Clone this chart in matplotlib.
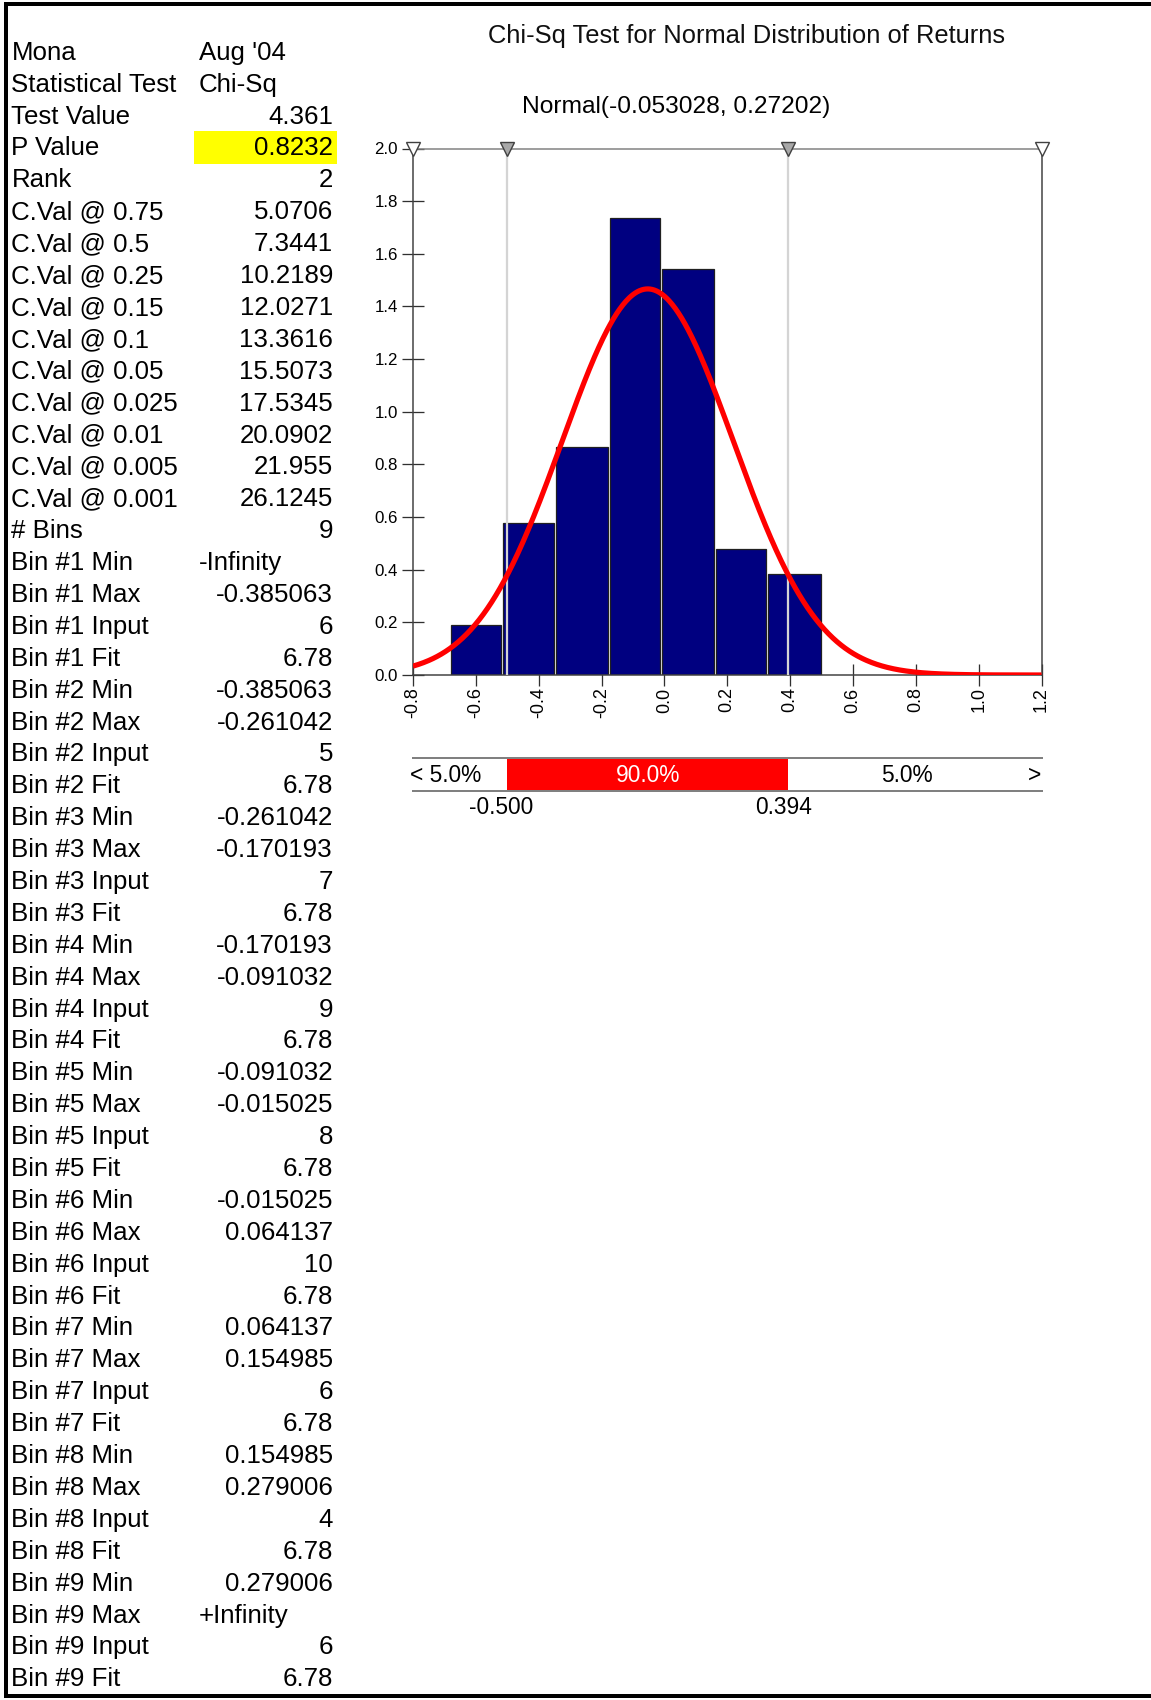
import numpy as np
import matplotlib
matplotlib.use("Agg")
import matplotlib.pyplot as plt
from matplotlib import font_manager as fm
from matplotlib.patches import Rectangle

# ---------------- data ----------------
header_labels = ["Mona", "Statistical Test", "Test Value", "P Value", "Rank"]
header_values = ["Aug '04", "Chi-Sq", "4.361", "0.8232", "2"]
cval_levels = ["0.75", "0.5", "0.25", "0.15", "0.1", "0.05", "0.025", "0.01", "0.005", "0.001"]
cval_values = ["5.0706", "7.3441", "10.2189", "12.0271", "13.3616", "15.5073",
               "17.5345", "20.0902", "21.955", "26.1245"]
n_bins = "9"
bin_min = ["-Infinity", "-0.385063", "-0.261042", "-0.170193", "-0.091032",
           "-0.015025", "0.064137", "0.154985", "0.279006"]
bin_max = ["-0.385063", "-0.261042", "-0.170193", "-0.091032", "-0.015025",
           "0.064137", "0.154985", "0.279006", "+Infinity"]
bin_input = ["6", "5", "7", "9", "8", "10", "6", "4", "6"]
bin_fit = ["6.78", "6.78", "6.78", "6.78", "6.78", "6.78", "6.78", "6.78", "6.78"]

hist_edges = [-0.682, -0.515, -0.347, -0.176, -0.008, 0.164, 0.329, 0.502]
hist_density = [0.191, 0.577, 0.867, 1.735, 1.541, 0.480, 0.383]

fit_mu = -0.053028
fit_sigma = 0.27202

x_ticks = [-0.8, -0.6, -0.4, -0.2, 0.0, 0.2, 0.4, 0.6, 0.8, 1.0, 1.2]
x_tick_labels = ["-0.8", "-0.6", "-0.4", "-0.2", "0.0", "0.2", "0.4", "0.6", "0.8", "1.0", "1.2"]
y_ticks = [0.0, 0.2, 0.4, 0.6, 0.8, 1.0, 1.2, 1.4, 1.6, 1.8, 2.0]
y_tick_labels = ["0.0", "0.2", "0.4", "0.6", "0.8", "1.0", "1.2", "1.4", "1.6", "1.8", "2.0"]

delim_lo = -0.500
delim_hi = 0.394
delim_lo_label = "-0.500"
delim_hi_label = "0.394"
pct_left, pct_mid, pct_right = "5.0%", "90.0%", "5.0%"

title_text = "Chi-Sq Test for Normal Distribution of Returns"
fit_text = "Normal(-0.053028, 0.27202)"

# ---------------- fonts ----------------
def has_font(name):
    try:
        fm.findfont(fm.FontProperties(family=name), fallback_to_default=False)
        return True
    except Exception:
        return False

MAIN = "Liberation Sans" if has_font("Liberation Sans") else "DejaVu Sans"
if has_font("Liberation Sans Narrow"):
    NARROW, NS = "Liberation Sans Narrow", 1.0
else:
    NARROW, NS = MAIN, 0.84

plt.rcParams["font.family"] = [MAIN, "DejaVu Sans"]

W, H = 1151, 1700
fig = plt.figure(figsize=(W / 100, H / 100), dpi=100)
fig.patch.set_facecolor("white")
PX = 0.72  # points per pixel

# overlay in pixel coordinates
ov = fig.add_axes([0, 0, 1, 1])
ov.set_xlim(0, W)
ov.set_ylim(H, 0)
ov.axis("off")
ov.patch.set_visible(False)

# frame
ov.plot([6, W + 5], [4, 4], color="black", lw=4 * PX, solid_capstyle="projecting")
ov.plot([6, 6], [4, 1696], color="black", lw=4 * PX, solid_capstyle="projecting")
ov.plot([6, W + 5], [1696, 1696], color="black", lw=4 * PX, solid_capstyle="projecting")

# ---------------- table ----------------
rows = []
for l, v in zip(header_labels, header_values):
    rows.append((l, v))
for lv, v in zip(cval_levels, cval_values):
    rows.append(("C.Val @ " + lv, v))
rows.append(("# Bins", n_bins))
for i in range(len(bin_min)):
    k = i + 1
    rows.append((f"Bin #{k} Min", bin_min[i]))
    rows.append((f"Bin #{k} Max", bin_max[i]))
    rows.append((f"Bin #{k} Input", bin_input[i]))
    rows.append((f"Bin #{k} Fit", bin_fit[i]))

row0_center = 51.0
row_h = (1677.5 - 51.0) / (len(rows) - 1)
table_fs = 18.6

def is_num(s):
    if any(c.isalpha() for c in s):
        return False
    try:
        float(s)
        return True
    except ValueError:
        return False

for i, (lab, val) in enumerate(rows):
    yc = row0_center + i * row_h
    if lab == "P Value":
        ov.add_patch(Rectangle((194, yc - 16), 143, 33, facecolor="#ffff00",
                               edgecolor="none", zorder=0))
    yb = yc + 8.8
    ov.text(11.5, yb, lab, fontsize=table_fs, ha="left", va="baseline", color="black", zorder=2)
    if is_num(val):
        ov.text(333, yb, val, fontsize=table_fs, ha="right", va="baseline", color="black", zorder=2)
    else:
        ov.text(199, yb, val, fontsize=table_fs, ha="left", va="baseline", color="black", zorder=2)

# titles
ov.text(747, 36, title_text, fontsize=18.4, ha="center", va="center", color="#101010")
ov.text(676, 107, fit_text, fontsize=21 * NS, family=NARROW, ha="center", va="center",
        color="black")

# ---------------- main chart ----------------
L, R, T, B = 413, 1041.5, 148.5, 675
ax = fig.add_axes([L / W, 1 - B / H, (R - L) / W, (B - T) / H])
ax.set_xlim(-0.8, 1.2)
ax.set_ylim(0, 2.0)
ax.patch.set_facecolor("white")

edges = np.array(hist_edges)
lefts = edges[:-1]
widths = np.diff(edges)
ax.bar(lefts + 0.0015, hist_density, width=widths - 0.0065, align="edge", color="#000080",
       edgecolor="#202020", linewidth=0.9, zorder=2)

for xd in (delim_lo, delim_hi):
    ax.axvline(xd, color="#d4d4d4", lw=1.6 * PX * 1.4, zorder=3)

xs = np.linspace(-0.8, 1.2, 600)
pdf = np.exp(-0.5 * ((xs - fit_mu) / fit_sigma) ** 2) / (fit_sigma * np.sqrt(2 * np.pi))
ax.plot(xs, pdf, color="#ff0000", lw=5.2 * PX, zorder=4, solid_capstyle="butt")

for side in ("left", "bottom", "right"):
    ax.spines[side].set_color("#404040")
    ax.spines[side].set_linewidth(1.5 * PX)
ax.spines["top"].set_color("#808080")
ax.spines["top"].set_linewidth(1.5 * PX)

ax.set_xticks(x_ticks)
ax.set_xticklabels(x_tick_labels, rotation=90, fontsize=13, family=MAIN)
ax.set_yticks(y_ticks)
ax.set_yticklabels(y_tick_labels, fontsize=14.5 * NS, family=NARROW)
ax.tick_params(axis="both", direction="inout", length=22 * PX, width=1.3 * PX,
               color="#303030", labelcolor="black")
ax.tick_params(axis="x", pad=1)
ax.tick_params(axis="y", pad=3)

mk_x = [-0.8, delim_lo, delim_hi, 1.2]
mk_fc = ["white", "#a8a8a8", "#a8a8a8", "white"]
for xm, fc in zip(mk_x, mk_fc):
    ax.plot([xm], [2.0], marker="v", markersize=10.5, markerfacecolor=fc,
            markeredgecolor="#404040", markeredgewidth=1.0, clip_on=False, zorder=6)

# ---------------- delimiter band ----------------
bT, bB = 757.5, 791.0
bx = fig.add_axes([L / W, 1 - bB / H, (R - L) / W, (bB - bT) / H])
bx.set_xlim(-0.8, 1.2)
bx.set_ylim(0, 1)
bx.axis("off")
bx.axvspan(delim_lo, delim_hi, ymin=0, ymax=1, color="#ff0000", lw=0)
bx.plot([-0.8, 1.2], [1, 1], color="#808080", lw=2 * PX, clip_on=False)
bx.plot([-0.8, 1.2], [0, 0], color="#808080", lw=2 * PX, clip_on=False)
band_fs = 19.5 * NS
bx.text(-0.81, 0.47, "< " + pct_left, fontsize=band_fs, family=NARROW, ha="left", va="center")
bx.text((delim_lo + delim_hi) / 2, 0.47, pct_mid, fontsize=band_fs, family=NARROW,
        ha="center", va="center", color="white")
bx.text((delim_hi + 1.2) / 2 - 0.025, 0.47, pct_right, fontsize=band_fs, family=NARROW,
        ha="center", va="center")
bx.text(1.2, 0.47, ">", fontsize=band_fs, family=NARROW, ha="right", va="center")

bx.text(delim_lo - 0.02, -0.5, delim_lo_label, fontsize=band_fs, family=NARROW,
        ha="center", va="center")
bx.text(delim_hi - 0.015, -0.5, delim_hi_label, fontsize=band_fs, family=NARROW,
        ha="center", va="center")

fig.savefig("out.png", dpi=100, facecolor="white")
